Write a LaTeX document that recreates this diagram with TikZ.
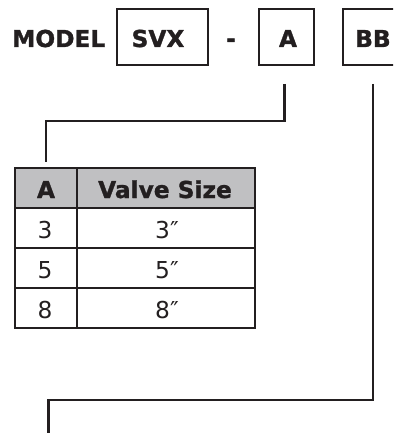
\documentclass[tikz,border=0pt]{standalone}
\usepackage{fontspec}
\setmainfont{DejaVu Sans}[BoldFeatures={FakeBold=1.3}]
\definecolor{ink}{HTML}{231F20}
\definecolor{hdr}{HTML}{C0C0C2}
\begin{document}
\begin{tikzpicture}[x=1pt,y=-1pt,
  lbl/.style={font=\bfseries\fontsize{23.3}{26}\selectfont, text=ink, inner sep=0pt, anchor=base},
  codebox/.style={draw=ink, line width=1.6pt, inner sep=0pt, anchor=north west},
  conn/.style={draw=ink, line width=2.6pt, line join=miter},
  tline/.style={draw=ink, line width=2pt},
  hd/.style={font=\bfseries\fontsize{23.3}{26}\selectfont, text=ink, inner sep=0pt, anchor=base},
  cell/.style={font=\fontsize{23.3}{26}\selectfont, text=ink, inner sep=0pt, anchor=base}]
\useasboundingbox (0,0) rectangle (393,433);
\clip (0,0) rectangle (393,433);
% header line
\node[lbl, anchor=base west] (model) at (12,47) {MODEL};
\node[codebox, minimum width=91pt, minimum height=56pt] (svx) at (116,8) {};
\node[lbl] (svxt) at (158,47) {SVX};
\node[lbl] (dash) at (231,47) {-};
\node[codebox, minimum width=55pt, minimum height=56pt] (abox) at (258,8) {};
\node[lbl] (at) at (288,47) {A};
\node[codebox, minimum width=64pt, minimum height=56pt] (bbox) at (342,8) {};
\node[lbl, anchor=base west] (bbt) at (355,47) {BB};
% connector coordinates
\coordinate (a0) at (284.5,84);
\coordinate (a1) at (284.5,121);
\coordinate (a2) at (46,121);
\coordinate (a3) at (46,162);
\coordinate (b0) at (373,84);
\coordinate (b1) at (373,400);
\coordinate (b2) at (48.5,400);
\coordinate (b3) at (48.5,440);
\draw[conn] (a0) -- (a1) -- (a2) -- (a3);
\draw[conn] (b0) -- (b1) -- (b2) -- (b3);
% table
\fill[hdr] (15,168) rectangle (255,208);
\draw[tline] (15,168) rectangle (255,328);
\draw[tline] (15,208) -- (255,208);
\draw[tline] (15,248) -- (255,248);
\draw[tline] (15,288) -- (255,288);
\draw[tline] (77,168) -- (77,328);
\node[hd] (h1) at (46,198) {A};
\node[hd] (h2) at (165,198) {Valve Size};
\node[cell] (r1a) at (45,238) {3};
\node[cell] (r1b) at (167,238) {3″};
\node[cell] (r2a) at (45,278) {5};
\node[cell] (r2b) at (167,278) {5″};
\node[cell] (r3a) at (45,318) {8};
\node[cell] (r3b) at (167,318) {8″};
\end{tikzpicture}
\end{document}
